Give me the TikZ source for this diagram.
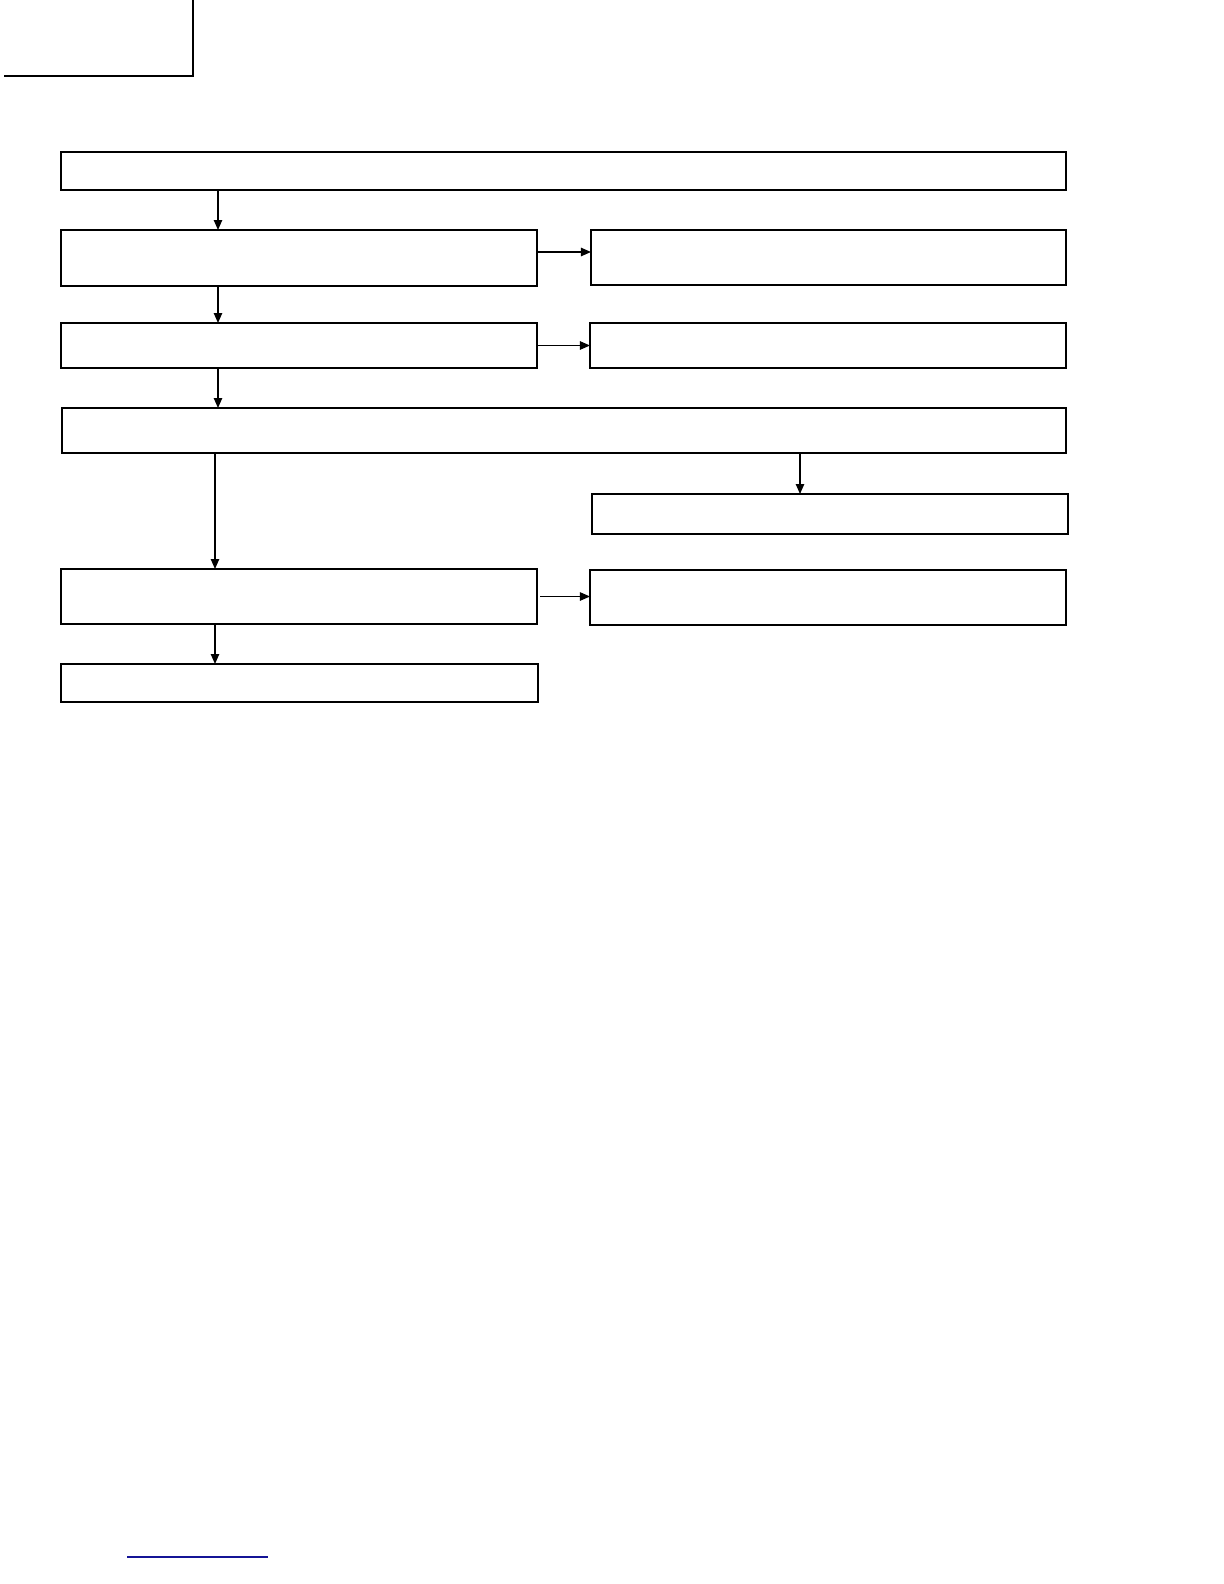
\documentclass[tikz,border=0pt]{standalone}
\usepackage{tikz}
\usetikzlibrary{arrows.meta,calc}
\usepackage{xcolor}
\definecolor{footblue}{RGB}{20,20,150}

\begin{document}
\begin{tikzpicture}[x=0.5bp, y=-0.5bp,
    box/.style={rectangle, draw, line width=0.7bp, inner sep=0pt, outer sep=0pt, minimum width=238bp},
    wide/.style={box, minimum width=502.5bp},
    link/.style={-{Triangle[length=5bp,width=4.2bp]}, line width=0.6bp}]

    \useasboundingbox (0,0) rectangle (1224,1584);

    % page corner
    \draw[line width=1.1bp] (4,76) -- (193,76) -- (193,0);

    \node [wide, line width=1.3bp, minimum height=19bp] (header) at (563.5,171) {};

    \node [box, minimum height=28bp] (stepa) at (299,258) {};
    \node [box, minimum width=237.5bp, minimum height=27.5bp] (notea) at (828.5,257.5) {};
    \node [box, minimum height=22.5bp] (stepb) at (299,345.5) {};
    \node [box, minimum height=22.5bp] (noteb) at (828,345.5) {};
    \node [wide, minimum width=502bp, minimum height=22.5bp] (check) at (564,430.5) {};
    \node [box, minimum height=20bp] (notec) at (830,514) {};
    \node [box, minimum height=27.5bp] (stepc) at (299,596.5) {};
    \node [box, minimum height=27.5bp] (noted) at (828,597.5) {};
    \node [box, minimum width=238.5bp, minimum height=19bp] (stepd) at (299.5,683) {};
    \draw[line width=1.3bp] (stepc.north west) -- (stepc.north east);

    \coordinate (upper) at (218,0);
    \coordinate (lower) at (215,0);
    \coordinate (side) at (800,0);

    \draw[link] (header.south -| upper) -- (stepa.north -| upper);
    \draw[link] (stepa.south -| upper) -- (stepb.north -| upper);
    \draw[link] (stepb.south -| upper) -- (check.north -| upper);
    \draw[link] (check.south -| lower) -- (stepc.north -| lower);
    \draw[link] (stepc.south -| lower) -- (stepd.north -| lower);
    \draw[link] (check.south -| side) -- (notec.north -| side);

    \draw[link] ([yshift=3bp]stepa.east) -- ([yshift=3bp]stepa.east -| notea.west);
    \draw[link] (stepb.east) -- (noteb.west);
    \draw[link] ([xshift=1.5bp]stepc.east) -- (stepc.east -| noted.west);

    % footer rule
    \draw[footblue, line width=0.6bp] (127,1557) -- (268,1557);
\end{tikzpicture}
\end{document}
